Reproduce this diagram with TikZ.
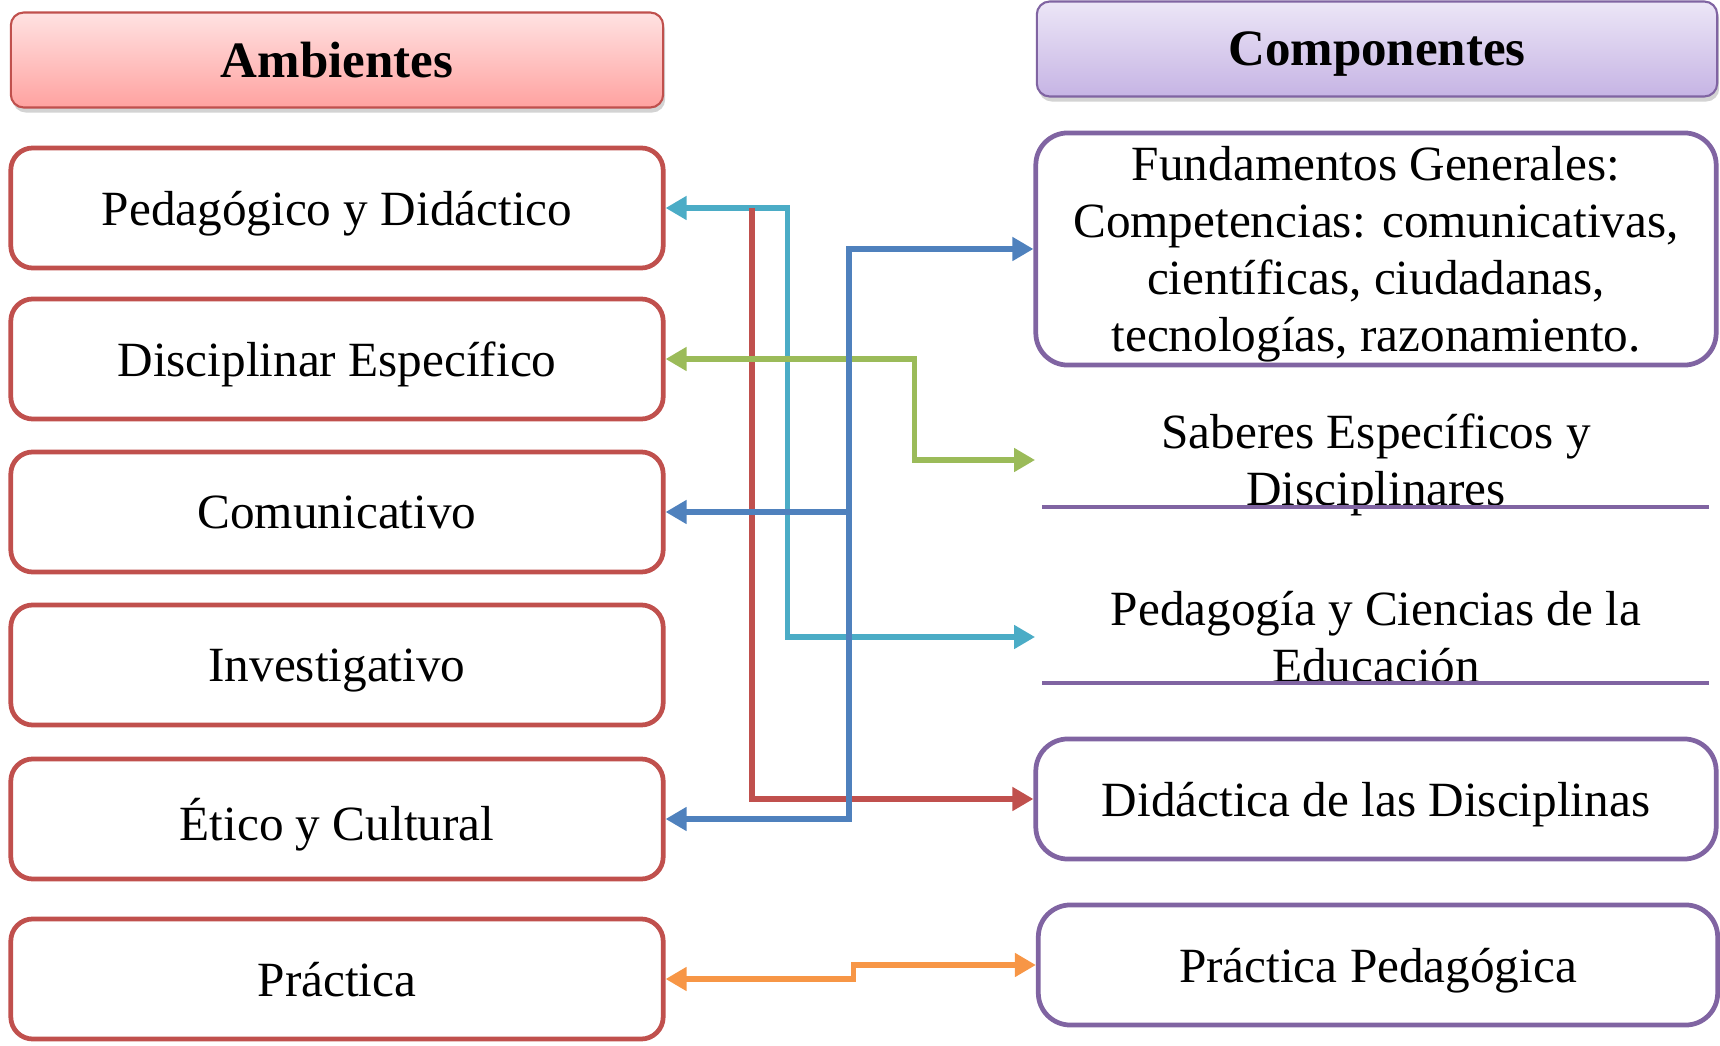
\documentclass[tikz,border=0pt]{standalone}
\usepackage{fontspec}
\setmainfont{Liberation Serif}
\usepackage{tikz}
\usetikzlibrary{arrows.meta,shapes,positioning,shadows}
\definecolor{amred}{RGB}{192,80,77}
\definecolor{ampink}{RGB}{255,226,226}
\definecolor{amsalmon}{RGB}{255,162,160}
\definecolor{copurple}{RGB}{128,100,162}
\definecolor{colilac}{RGB}{236,230,247}
\definecolor{colavender}{RGB}{198,180,228}
\definecolor{lkcyan}{RGB}{75,172,198}
\definecolor{lkblue}{RGB}{79,129,189}
\definecolor{lkgreen}{RGB}{155,187,89}
\definecolor{lkorange}{RGB}{247,150,70}
\tikzstyle{header} = [rectangle, rounded corners=0.13cm, minimum height=0.95cm, text centered, text depth=0pt, line width=0.6pt, font=\fontsize{14.5}{17}\selectfont\bfseries, drop shadow={opacity=0.35, shadow xshift=0.02cm, shadow yshift=-0.05cm}]
\tikzstyle{ambox} = [rectangle, rounded corners=0.22cm, minimum width=6.52cm, minimum height=1.2cm, text centered, text depth=0pt, draw=amred, fill=white, line width=1.35pt, font=\fontsize{14}{16.2}\selectfont]
\tikzstyle{cobox} = [rectangle, rounded corners=0.32cm, minimum width=6.8cm, minimum height=1.2cm, align=center, text depth=0pt, draw=copurple, fill=white, line width=1.35pt, font=\fontsize{14}{16.2}\selectfont]
\tikzstyle{coplain} = [rectangle, minimum width=6.8cm, align=center, text depth=0pt, font=\fontsize{14}{16.2}\selectfont]
\tikzstyle{coline} = [copurple, line width=1pt]
\tikzstyle{link} = [line width=1.5pt, >={Triangle[length=6pt,width=6.5pt]}]

\begin{document}
\begin{tikzpicture}[x=0.01cm, y=-0.01cm]
\useasboundingbox (0,0) rectangle (1720,1046);

% Headers
\node (ambientes) [header, minimum width=6.52cm, draw=amred, top color=ampink, bottom color=amsalmon] at (337,60) {Ambientes};
\node (componentes) [header, minimum width=6.8cm, draw=copurple, top color=colilac, bottom color=colavender] at (1377,49) {Componentes};

% Ambientes
\node (pedagogico) [ambox] at (337,208) {Pedagógico y Didáctico};
\node (disciplinar) [ambox] at (337,359) {Disciplinar Específico};
\node (comunicativo) [ambox] at (337,512) {Comunicativo};
\node (investigativo) [ambox] at (337,665) {Investigativo};
\node (etico) [ambox] at (337,819) {Ético y Cultural};
\node (practica) [ambox] at (337,979) {Práctica};

% Componentes
\node (fundamentos) [cobox, minimum height=2.32cm] at (1376,249) {Fundamentos Generales:\\Competencias: comunicativas,\\científicas, ciudadanas,\\tecnologías, razonamiento.};
\node (saberes) [coplain] at (1376,460) {Saberes Específicos y\\Disciplinares};
\node (pedagogia) [coplain] at (1376,637) {Pedagogía y Ciencias de la\\Educación};
\node (didactica) [cobox] at (1376,799) {Didáctica de las Disciplinas};
\node (practicaped) [cobox, minimum width=6.79cm] at (1378,965) {Práctica Pedagógica};
\draw[coline] (1042,507) -- (1709,507);
\draw[coline] (1042,683) -- (1709,683);

% Arrows
\coordinate (redtop) at (752,208);
\coordinate (bluex) at (849,0);
\draw[link, <->, lkcyan] (pedagogico.east) -- ++(1.22cm,0) |- (pedagogia.west);
\draw[link, ->, amred] (redtop) |- (didactica.west);
\draw[link, <->, lkgreen] (disciplinar.east) -- ++(2.49cm,0) |- (saberes.west);
\draw[link, <->, lkblue] (etico.east) -| (fundamentos.west -| bluex) -- (fundamentos.west);
\draw[link, ->, lkblue] (comunicativo.east -| bluex) -- (comunicativo.east);
\draw[link, <->, lkorange] (practica.east) -- ++(1.88cm,0) |- (practicaped.west);
\end{tikzpicture}
\end{document}
